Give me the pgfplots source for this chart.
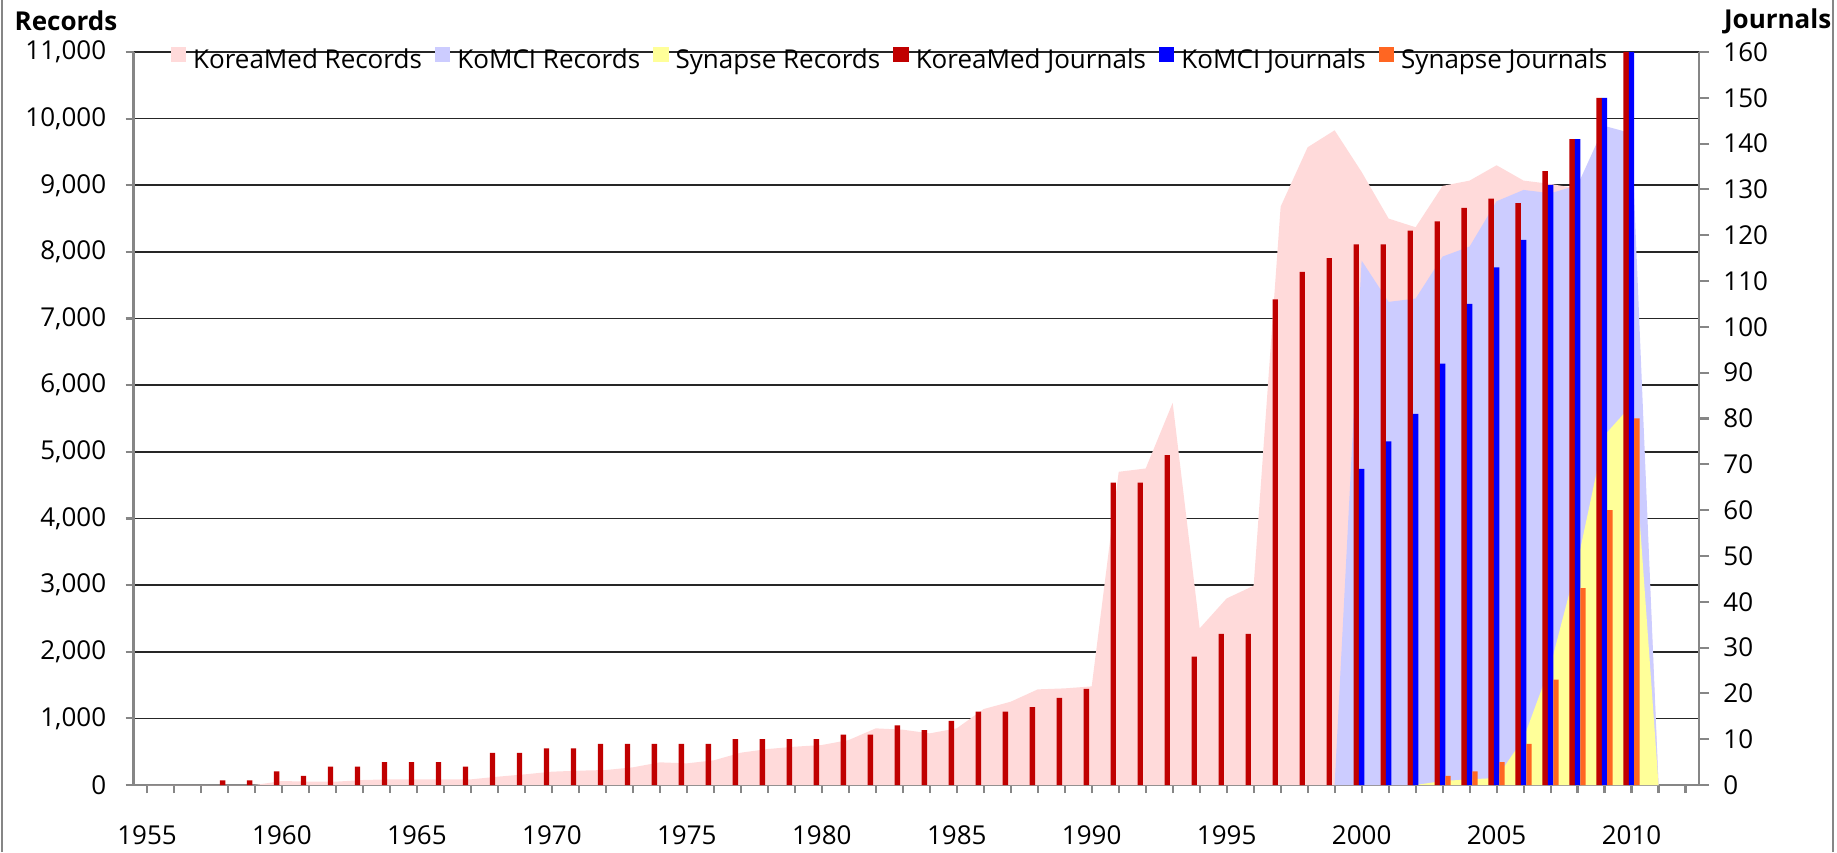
\documentclass[border=0pt]{standalone}
\usepackage{fontspec}
\setmainfont{Open Sans}
\usepackage{pgfplots}
\pgfplotsset{compat=1.18}
\definecolor{kmrec}{RGB}{255,218,218}
\definecolor{komrec}{RGB}{204,204,255}
\definecolor{synrec}{RGB}{255,255,153}
\definecolor{kmj}{RGB}{192,0,0}
\definecolor{komj}{RGB}{0,0,255}
\definecolor{synj}{RGB}{255,102,34}
\definecolor{axgray}{RGB}{134,134,134}
\begin{document}
\fontsize{7.4pt}{9pt}\selectfont
\begin{tikzpicture}
\useasboundingbox (0,0) rectangle (18.37cm,8.52cm);
\draw[axgray, line width=0.6pt] (0.02cm,0) -- (0.02cm,8.52cm);
\draw[axgray, line width=0.6pt] (18.33cm,0) -- (18.33cm,8.52cm);
\node[font=\bfseries, anchor=west, inner sep=0pt] at (0.14cm,8.31cm) {Records};
\node[font=\bfseries, anchor=east, inner sep=0pt] at (18.32cm,8.31cm) {Journals};
% ---------- records (areas), left axis ----------
\begin{axis}[
  scale only axis, width=15.655cm, height=7.33cm,
  at={(1.335cm,0.67cm)}, anchor=south west,
  xmin=1954.5, xmax=2012.5, ymin=0, ymax=11000,
  axis x line*=bottom, axis y line*=left,
  axis line style={axgray, line width=0.6pt},
  tick align=outside, major tick length=0.08cm, minor tick length=0.08cm,
  tick style={axgray, line width=0.6pt},
  xtick={1955,1960,1965,1970,1975,1980,1985,1990,1995,2000,2005,2010},
  xticklabels={1955,1960,1965,1970,1975,1980,1985,1990,1995,2000,2005,2010},
  minor xtick={1955,1956,...,2012},
  ytick={0,1000,...,11000},
  scaled y ticks=false,
  ymajorgrids, major grid style={black!85, line width=0.45pt},
  yticklabel style={/pgf/number format/1000 sep={,}, /pgf/number format/fixed, /pgf/number format/assume math mode=true, xshift=-0.1cm},
  xticklabel style={yshift=-0.23cm},
]
\addplot[fill=kmrec, draw=none] coordinates {
(1955,0) (1956,0) (1957,0) (1958,0) (1959,0) (1960,60) (1961,50) (1962,50) (1963,75) (1964,85)
(1965,85) (1966,85) (1967,85) (1968,125) (1969,160) (1970,200) (1971,215) (1972,225) (1973,265) (1974,340)
(1975,325) (1976,370) (1977,485) (1978,540) (1979,575) (1980,600) (1981,675) (1982,850) (1983,830) (1984,775)
(1985,850) (1986,1140) (1987,1250) (1988,1435) (1989,1450) (1990,1480) (1991,4700) (1992,4750) (1993,5735) (1994,2350)
(1995,2800) (1996,2990) (1997,8680) (1998,9570) (1999,9825) (2000,9200) (2001,8500) (2002,8370) (2003,8990) (2004,9070)
(2005,9300) (2006,9070) (2007,9020) (2008,8950) (2009,9500) (2010,9300) (2011,0)
} \closedcycle;
\addplot[fill=komrec, draw=none] coordinates {
(1999,0) (2000,7870) (2001,7250) (2002,7300) (2003,7930) (2004,8080) (2005,8760) (2006,8930) (2007,8880) (2008,9000) (2009,9890) (2010,9780) (2011,0)
} \closedcycle;
\addplot[fill=synrec, draw=none] coordinates {
(2002,0) (2003,60) (2004,85) (2005,105) (2006,700) (2007,1800) (2008,3350) (2009,5250) (2010,5700) (2011,0)
} \closedcycle;
\end{axis}
% ---------- journals (bars), right axis ----------
\begin{axis}[
  scale only axis, width=15.655cm, height=7.33cm,
  at={(1.335cm,0.67cm)}, anchor=south west,
  xmin=1954.5, xmax=2012.5, ymin=0, ymax=160,
  axis x line=none, axis y line*=right,
  axis line style={axgray, line width=0.6pt},
  tick align=outside, major tick length=0.1cm,
  tick style={axgray, line width=0.6pt},
  ytick={0,10,...,160},
  yticklabel style={/pgf/number format/assume math mode=true, xshift=0.05cm},
  legend columns=6,
  legend style={at={(rel axis cs:0.0233,0.988)}, anchor=west, draw=none, fill=none, inner sep=0pt,
    /tikz/every even column/.append style={column sep=0.06cm}},
]
\addlegendimage{legend image code/.code={\fill[kmrec] (0cm,-0.01cm) rectangle (0.14cm,0.13cm);}}
\addlegendimage{legend image code/.code={\fill[komrec] (0cm,-0.01cm) rectangle (0.14cm,0.13cm);}}
\addlegendimage{legend image code/.code={\fill[synrec] (0cm,-0.01cm) rectangle (0.14cm,0.13cm);}}
\addlegendimage{legend image code/.code={\fill[kmj] (0cm,-0.01cm) rectangle (0.14cm,0.13cm);}}
\addlegendimage{legend image code/.code={\fill[komj] (0cm,-0.01cm) rectangle (0.14cm,0.13cm);}}
\addlegendimage{legend image code/.code={\fill[synj] (0cm,-0.01cm) rectangle (0.14cm,0.13cm);}}
\addplot[ybar, bar width=0.2, bar shift=-0.2, fill=kmj, draw=none, forget plot] coordinates {
(1958,1) (1959,1) (1960,3) (1961,2) (1962,4) (1963,4) (1964,5) (1965,5) (1966,5) (1967,4)
(1968,7) (1969,7) (1970,8) (1971,8) (1972,9) (1973,9) (1974,9) (1975,9) (1976,9) (1977,10)
(1978,10) (1979,10) (1980,10) (1981,11) (1982,11) (1983,13) (1984,12) (1985,14) (1986,16) (1987,16)
(1988,17) (1989,19) (1990,21) (1991,66) (1992,66) (1993,72) (1994,28) (1995,33) (1996,33) (1997,106)
(1998,112) (1999,115) (2000,118) (2001,118) (2002,121) (2003,123) (2004,126) (2005,128) (2006,127) (2007,134)
(2008,141) (2009,150) (2010,160)
};
\addplot[ybar, bar width=0.2, bar shift=0, fill=komj, draw=none, forget plot] coordinates {
(2000,69) (2001,75) (2002,81) (2003,92) (2004,105) (2005,113) (2006,119) (2007,131) (2008,141) (2009,150) (2010,160)
};
\addplot[ybar, bar width=0.2, bar shift=0.2, fill=synj, draw=none, forget plot] coordinates {
(2003,2) (2004,3) (2005,5) (2006,9) (2007,23) (2008,43) (2009,60) (2010,80)
};
\legend{KoreaMed Records, KoMCI Records, Synapse Records, KoreaMed Journals, KoMCI Journals, Synapse Journals}
\end{axis}
\end{tikzpicture}
\end{document}
